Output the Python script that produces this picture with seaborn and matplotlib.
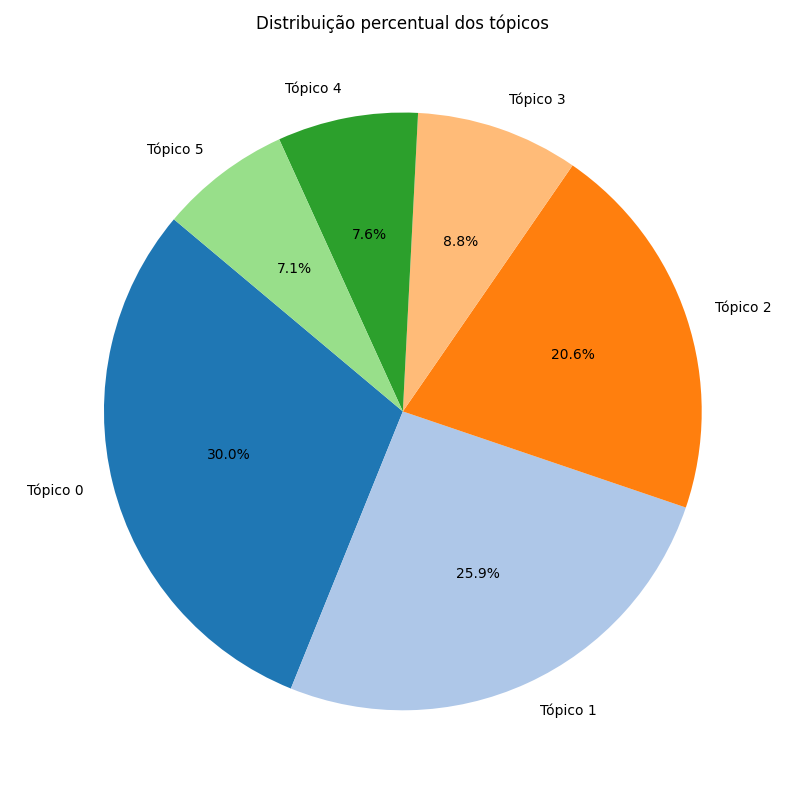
import matplotlib
matplotlib.use("Agg")
import matplotlib.pyplot as plt
import seaborn as sns

# Dados do gráfico
topicos = ['Tópico 0', 'Tópico 1', 'Tópico 2', 'Tópico 3', 'Tópico 4', 'Tópico 5']
percentuais = [30.0, 25.9, 20.6, 8.8, 7.6, 7.1]

cores = sns.color_palette("tab20", len(topicos))

plt.figure(figsize=(8, 8))
plt.pie(percentuais, labels=topicos, autopct='%1.1f%%', startangle=140, colors=cores)
plt.title('Distribuição percentual dos tópicos')
plt.tight_layout()
plt.savefig('out.png', dpi=100)
plt.close()
